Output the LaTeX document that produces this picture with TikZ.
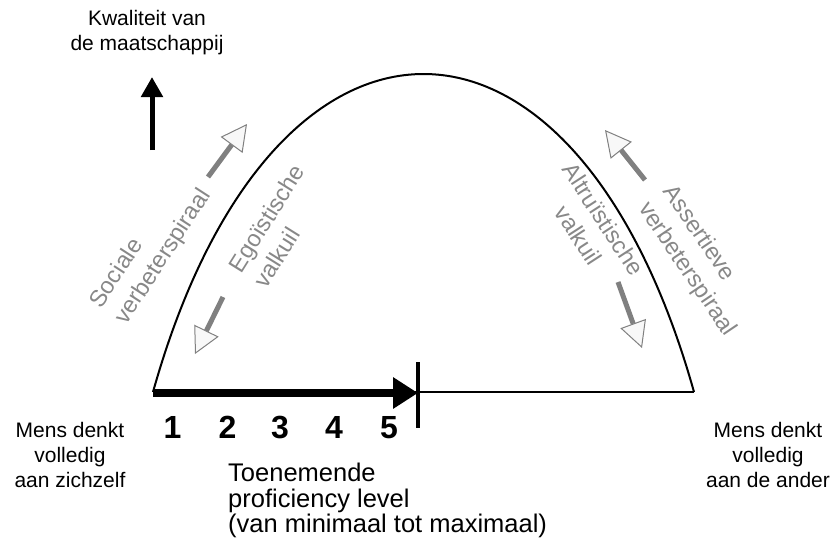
\documentclass[tikz,border=0pt]{standalone}
\usepackage{fontspec}
\setmainfont{Liberation Sans}
\usetikzlibrary{arrows.meta}
\definecolor{txtgray}{HTML}{888888}
\definecolor{shaftgray}{HTML}{808080}
\definecolor{headfill}{HTML}{F8F8F8}
\tikzset{
  lbl/.style={inner sep=0pt, font=\fontsize{21}{25}\selectfont, align=center},
  rottxt/.style={inner sep=0pt, text=txtgray, font=\fontsize{23.5}{30}\selectfont},
  grayarrow/.style={draw=shaftgray, line width=5pt,
    -{Triangle[length=26pt,width=27pt,line width=1pt,fill=headfill]}},
  numlbl/.style={inner sep=0pt, font=\fontsize{32}{32}\selectfont\bfseries, anchor=base},
  curve/.style={line width=2pt, black},
}
\begin{document}
\begin{tikzpicture}[x=1pt,y=-1pt]
\useasboundingbox (0,0) rectangle (834,549);
% baseline and arch
\coordinate (L) at (153,392);
\coordinate (R) at (694,392);
\draw[curve] (L) .. controls (272,-32) and (575,-32) .. (R);
\draw[curve] (L) -- (R);
% thick arrow and tick
\coordinate (A0) at (153,393);
\coordinate (A1) at (418,393);
\draw[line width=8pt, -{Triangle[length=25pt,width=30pt]}] (A0) -- (A1);
\coordinate (T0) at (418,362);
\coordinate (T1) at (418,428);
\draw[line width=4pt] (T0) -- (T1);
% up arrow
\coordinate (U0) at (152,150);
\coordinate (U1) at (152,77);
\draw[line width=5pt, -{Triangle[length=20pt,width=21pt]}] (U0) -- (U1);
% gray arrows
\coordinate (s0) at (208,177); \coordinate (s1) at (247,124);
\coordinate (e0) at (223,297); \coordinate (e1) at (195,354);
\coordinate (a0) at (645,180); \coordinate (a1) at (605,130);
\coordinate (t0) at (618,282); \coordinate (t1) at (642,348);
\draw[grayarrow] (s0) -- (s1);
\draw[grayarrow] (e0) -- (e1);
\draw[grayarrow] (a0) -- (a1);
\draw[grayarrow] (t0) -- (t1);
% rotated labels
\node[rottxt, align=left, rotate=57] (soc) at (151,249) {Sociale\\verbeterspiraal};
\node[rottxt, align=left, rotate=58] (ego) at (279,226) {Egoïstische\\valkuil};
\node[rottxt, align=center, rotate=-57] (alt) at (591,227) {Altruïstische\\valkuil};
\node[rottxt, align=left, rotate=-56] (ass) at (699,261) {Assertieve\\verbeterspiraal};
% top label
\node[lbl, anchor=north] (kw) at (147,10) {Kwaliteit van\\de maatschappij};
% side labels
\node[lbl, anchor=north] (ml) at (70,422) {Mens denkt\\volledig\\aan zichzelf};
\node[lbl, anchor=north] (mr) at (768,422) {Mens denkt\\volledig\\aan de ander};
% numbers
\node[numlbl] (n1) at (172.5,438) {1};
\node[numlbl] (n2) at (227.5,438) {2};
\node[numlbl] (n3) at (280,438) {3};
\node[numlbl] (n4) at (334,438) {4};
\node[numlbl] (n5) at (389,438) {5};
% bottom label
\node[inner sep=0pt, anchor=north west, align=left, font=\fontsize{25.5}{25.5}\selectfont] (tn) at (228,463) {Toenemende\\proficiency level\\(van minimaal tot maximaal)};
\end{tikzpicture}
\end{document}
